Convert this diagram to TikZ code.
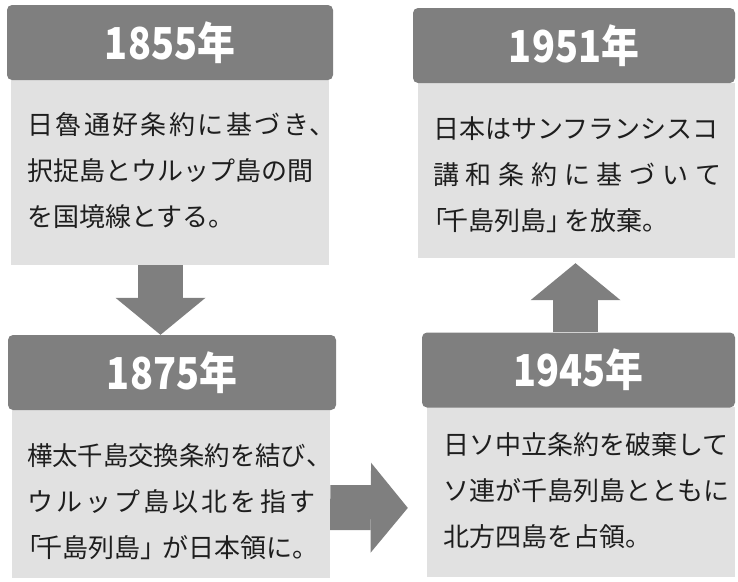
\documentclass[tikz,border=0pt]{standalone}
\usepackage{fontspec}
\usepackage{graphicx}
\setmainfont{Noto Sans CJK JP}
\usetikzlibrary{arrows.meta}

\definecolor{headgray}{HTML}{7F7F7F}
\definecolor{bodygray}{HTML}{E1E1E1}
\definecolor{inkgray}{HTML}{1E1E1E}

\begin{document}
\begin{tikzpicture}[x=1pt,y=-1pt]
 \useasboundingbox (0,0) rectangle (738,581);
 \tikzstyle{head} = [rectangle,rounded corners=5pt,fill=headgray,text=white,
   inner sep=0pt,minimum height=75pt,font=\fontsize{44}{44}\selectfont\bfseries]
 \tikzstyle{body} = [rectangle,fill=bodygray,inner sep=0pt]
 \tikzstyle{txt} = [anchor=west,align=left,inner sep=0pt,text=inkgray,
   font=\fontsize{26}{46}\selectfont]
 \tikzstyle{big} = [draw=headgray,line width=45pt,
   -{Triangle[width=90pt,length=37pt,line width=0pt]}]
 \node[body,minimum width=318pt,minimum height=185pt] (b1855) at (170,172.5) {};
 \node[head,minimum width=326pt] (h1855) at (170,42.5) {\scalebox{0.86}[1]{1855年}};
 \node[txt] (t1855) at (27,171)
   {\makebox[282pt][s]{日\hfill 魯\hfill 通\hfill 好\hfill 条\hfill 約\hfill に\hfill 基\hfill づ\hfill き}、\\
    択捉島とウルップ島の間\\
    を国境線とする。};
 \node[body,minimum width=318pt,minimum height=168pt] (b1875) at (171,494) {};
 \node[head,minimum width=328pt] (h1875) at (172,372.5) {\scalebox{0.86}[1]{1875年}};
 \node[txt] (t1875) at (27,502)
   {\scalebox{0.975}[1]{樺太千島交換条約を結び}、\\
    \makebox[288pt][s]{ウ\hfill ル\hfill ッ\hfill プ\hfill 島\hfill 以\hfill 北\hfill を\hfill 指\hfill す}\\
    \hspace{-0.45em}「\hspace{-0.2em}千島列島」\hspace{-0.15em}が日本領に。};
 \node[body,minimum width=317pt,minimum height=175pt] (b1951) at (576.5,170.5) {};
 \node[head,minimum width=322pt] (h1951) at (574,45.5) {\scalebox{0.86}[1]{1951年}};
 \node[txt] (t1951) at (433,175)
   {日本はサンフランシスコ\\
    \makebox[288pt][s]{講\hfill 和\hfill 条\hfill 約\hfill に\hfill 基\hfill づ\hfill い\hfill て}\\
    \hspace{-0.45em}「\hspace{-0.2em}千島列島」\hspace{-0.3em}を放棄。};
 \node[body,minimum width=308pt,minimum height=170pt] (b1945) at (581,492) {};
 \node[head,minimum width=313pt] (h1945) at (578.5,370) {\scalebox{0.86}[1]{1945年}};
 \node[txt] (t1945) at (443,491)
   {日ソ中立条約を破棄して\\
    ソ連が千島列島とともに\\
    北方四島を占領。};
 \draw [big] ([xshift=-9.5pt]b1855.south) to ([xshift=-11.5pt]h1875.north);
 \draw [big,shorten >=19pt] ([yshift=-13.5pt]b1875.east) to ([yshift=-16pt]b1945.west);
 \draw [big,shorten >=5pt] ([xshift=-3pt]h1945.north) to ([xshift=-1pt]b1951.south);
\end{tikzpicture}
\end{document}
